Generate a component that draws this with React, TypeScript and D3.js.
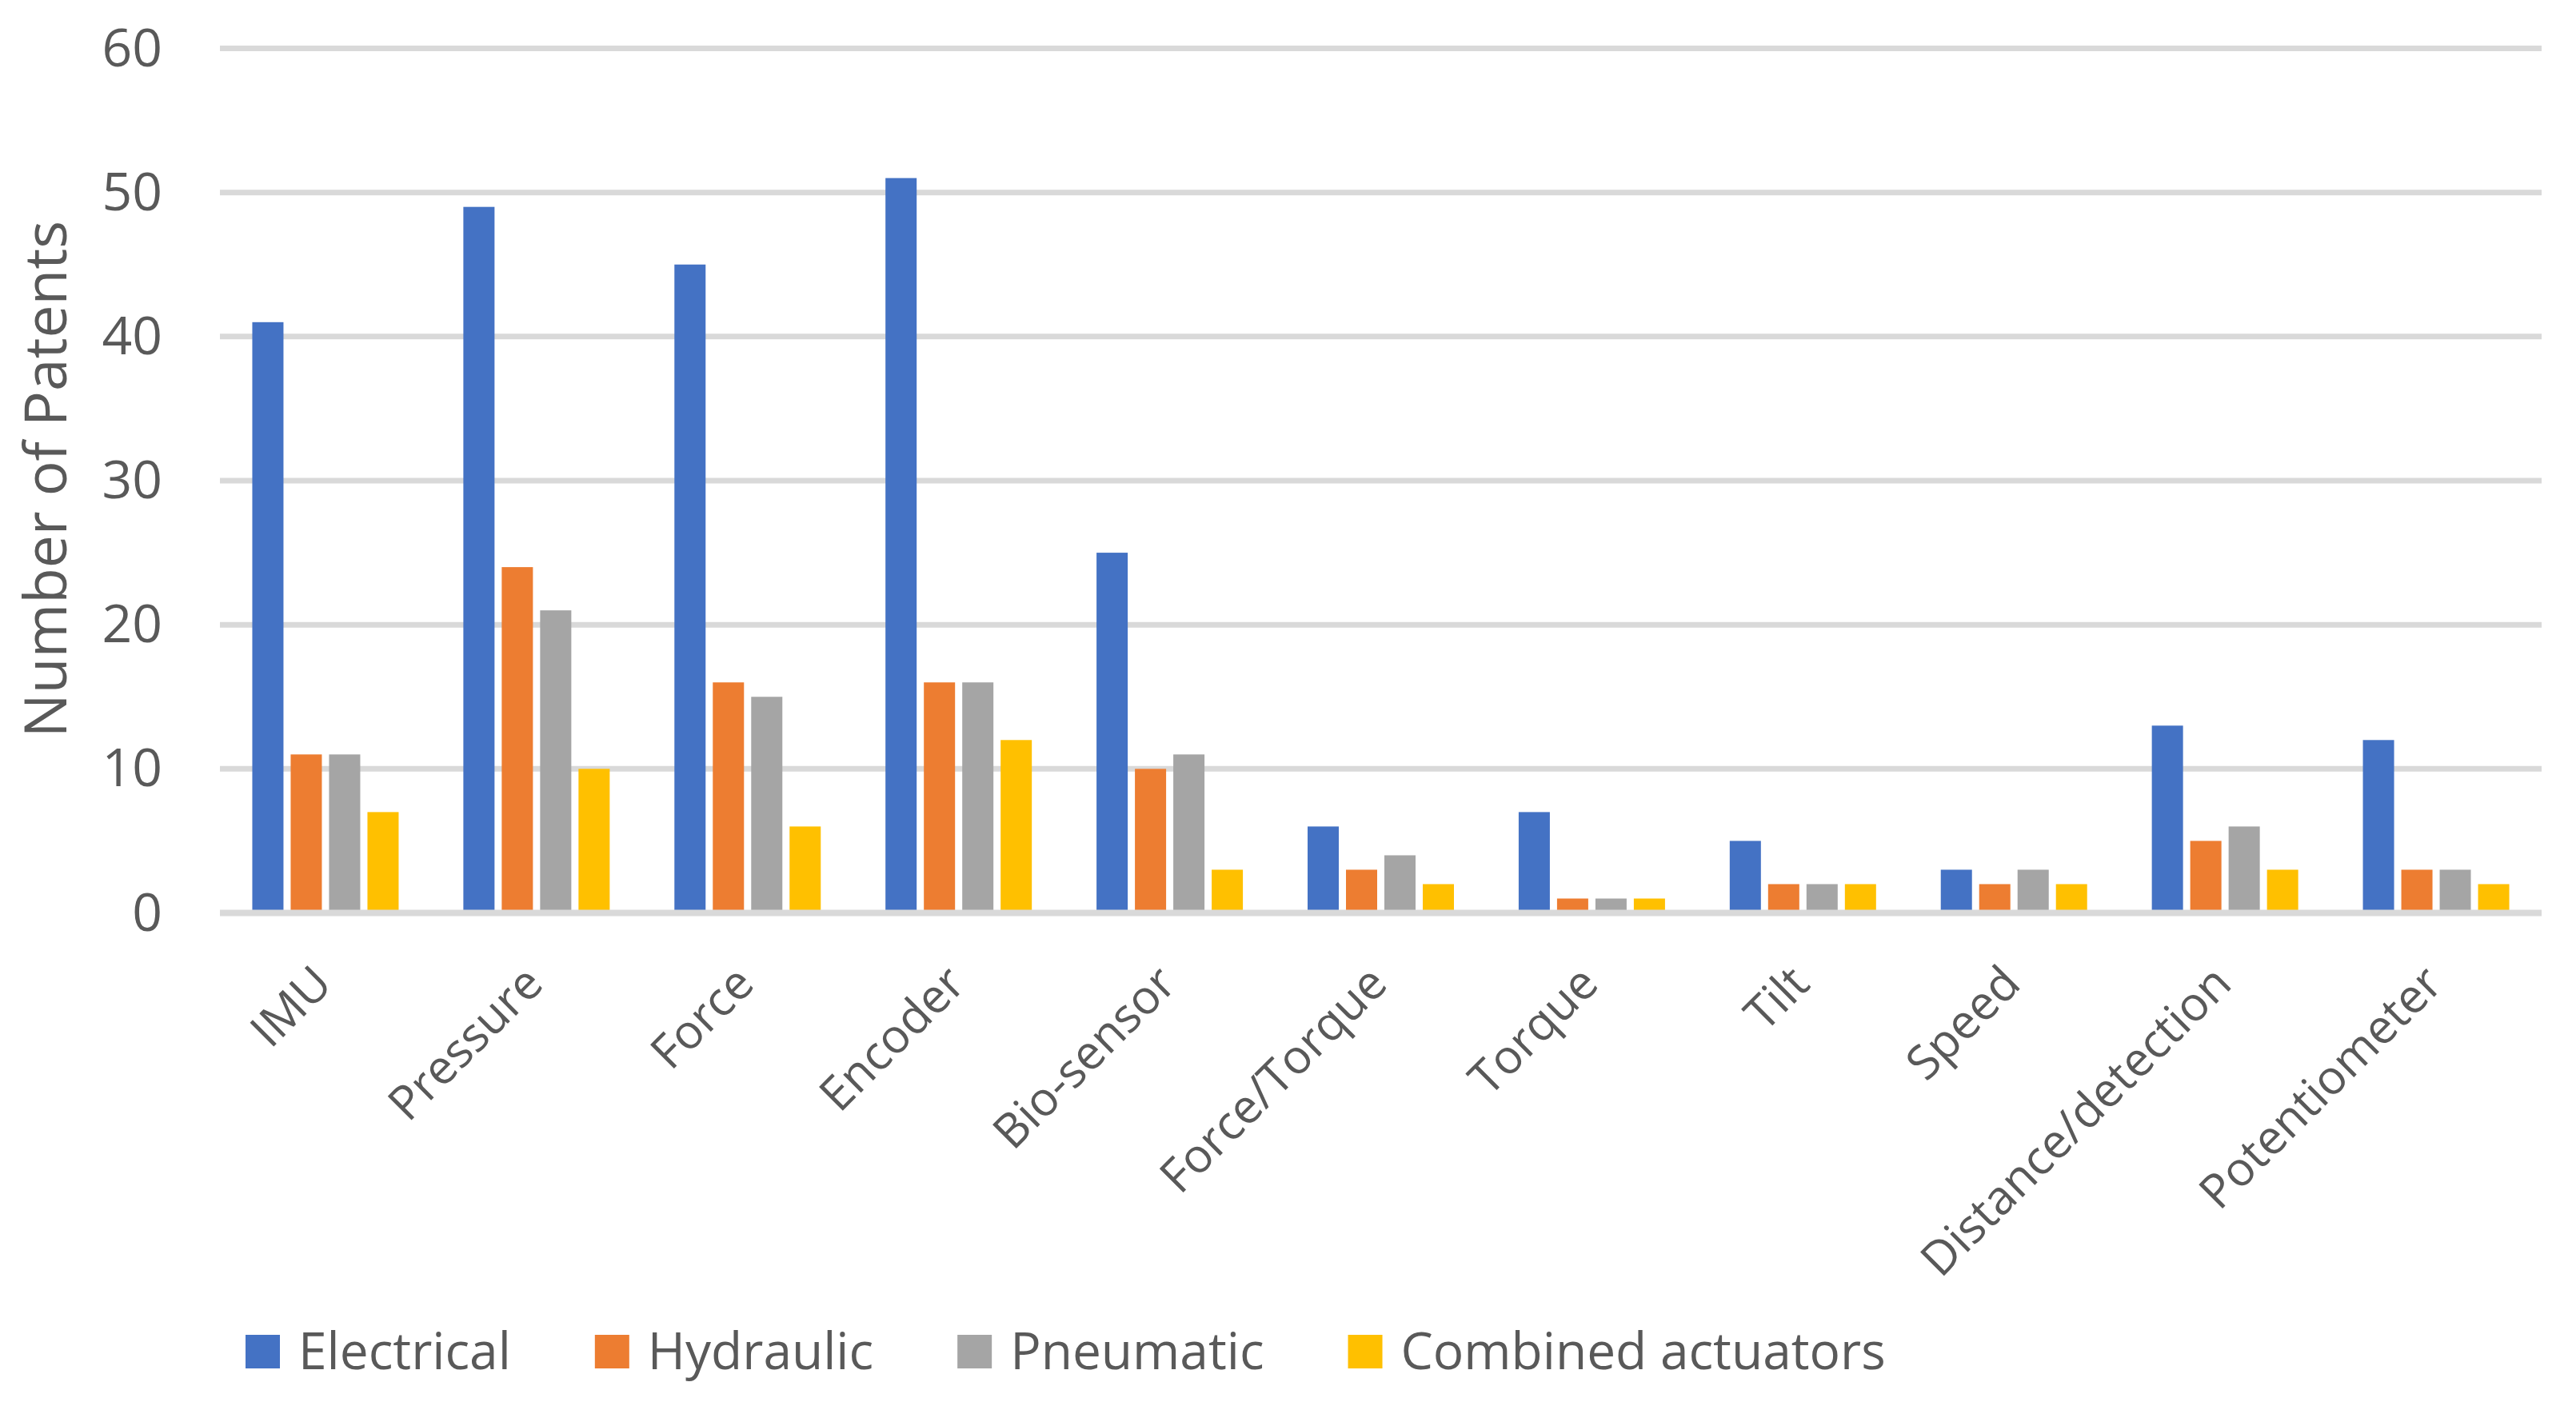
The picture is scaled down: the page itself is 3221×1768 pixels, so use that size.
import React, { useEffect, useRef } from "react";
import * as d3 from "d3";

const categories = [
  "IMU", "Pressure", "Force", "Encoder", "Bio-sensor", "Force/Torque",
  "Torque", "Tilt", "Speed", "Distance/detection", "Potentiometer",
];
const seriesNames = ["Electrical", "Hydraulic", "Pneumatic", "Combined actuators"];
const electrical = [41, 49, 45, 51, 25, 6, 7, 5, 3, 13, 12];
const hydraulic = [11, 24, 16, 16, 10, 3, 1, 2, 2, 5, 3];
const pneumatic = [11, 21, 15, 16, 11, 4, 1, 2, 3, 6, 3];
const combined = [7, 10, 6, 12, 3, 2, 1, 2, 2, 3, 2];
const yTicks = [0, 10, 20, 30, 40, 50, 60];
const colors = ["#4472C4", "#ED7D31", "#A5A5A5", "#FFC000"];

const W = 3221;
const H = 1768;
const FONT = "'Open Sans', 'Noto Sans', sans-serif";
const TEXT = "#595959";

export default function App() {
  const legendRef = useRef<SVGGElement>(null);
  const seriesValues = [electrical, hydraulic, pneumatic, combined];

  const x0 = d3.scaleBand<string>().domain(categories).range([275, 3178])
    .paddingInner(0.3066).paddingOuter(0.1533);
  const x1 = d3.scaleBand<string>().domain(seriesNames).range([0, x0.bandwidth()])
    .paddingInner(0.1875).paddingOuter(0);
  const y = d3.scaleLinear().domain([0, 60]).range([1141.5, 60.5]);

  useEffect(() => {
    document.body.style.margin = "0";
    const g = d3.select(legendRef.current);
    let xPos = 307;
    g.selectAll<SVGGElement, unknown>("g.item").each(function () {
      const item = d3.select(this);
      item.attr("transform", `translate(${xPos},0)`);
      const t = item.select<SVGTextElement>("text").node();
      const len = t ? t.getComputedTextLength() : 0;
      xPos += 43 + 23 + len + 105;
    });
  }, []);

  return (
    <svg width={W} height={H} style={{ position: "absolute", left: 0, top: 0, background: "#fff" }}
      fontFamily={FONT}>
      <rect x={0} y={0} width={W} height={H} fill="#fff" />
      {yTicks.filter((t) => t !== 0).map((t) => (
        <line key={"g" + t} x1={275} x2={3178} y1={y(t)} y2={y(t)} stroke="#D9D9D9" strokeWidth={7} />
      ))}
      {categories.map((c, i) => (
        <g key={c} transform={`translate(${x0(c)},0)`}>
          {seriesNames.map((s, j) => (
            <rect key={s} x={x1(s)} width={x1.bandwidth()} y={y(seriesValues[j][i])}
              height={y(0) - y(seriesValues[j][i])} fill={colors[j]} />
          ))}
        </g>
      ))}
      <line x1={275} x2={3178} y1={y(0)} y2={y(0)} stroke="#D9D9D9" strokeWidth={8} />
      {yTicks.map((t) => (
        <text key={"t" + t} x={203} y={y(t) + 22} textAnchor="end" fontSize={66} fill={TEXT}>{t}</text>
      ))}
      <text transform={`translate(83,599) rotate(-90)`} textAnchor="middle" fontSize={73} fill={TEXT}>
        Number of Patents
      </text>
      {categories.map((c) => {
        const cx = (x0(c) as number) + x0.bandwidth() / 2 + 11;
        return (
          <text key={"x" + c} transform={`translate(${cx},1233) rotate(-45)`} textAnchor="end"
            fontSize={59} fill={TEXT}>{c}</text>
        );
      })}
      <g ref={legendRef}>
        {seriesNames.map((s, j) => (
          <g key={s} className="item" transform={`translate(${307 + j * 450},0)`}>
            <rect x={0} y={1669} width={43} height={42} fill={colors[j]} />
            <text x={66} y={1712} fontSize={64} fill={TEXT}>{s}</text>
          </g>
        ))}
      </g>
    </svg>
  );
}
